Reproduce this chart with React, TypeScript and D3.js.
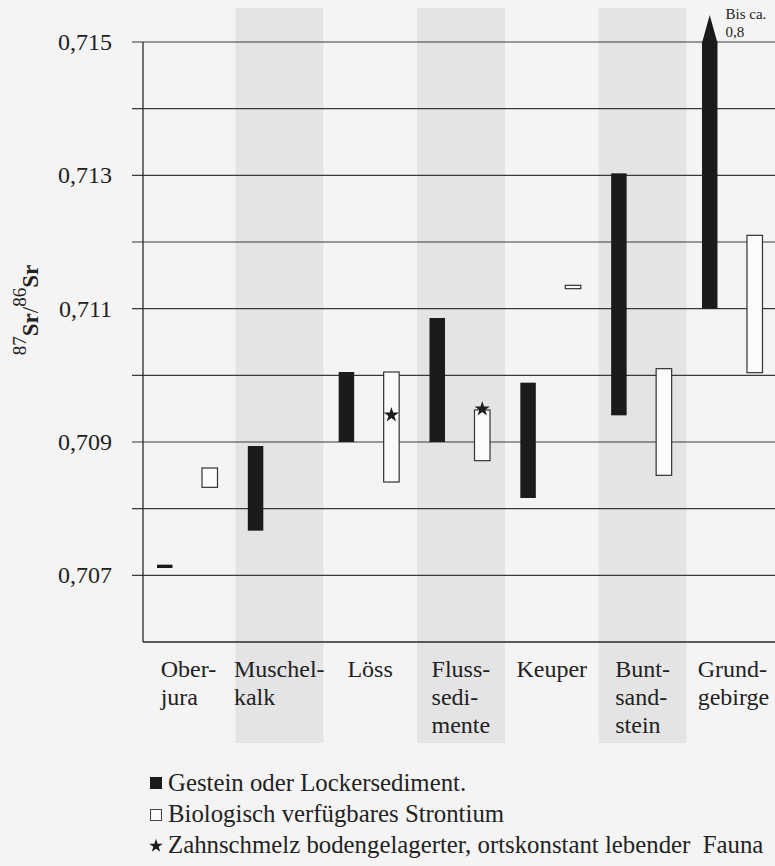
import React from "react";
import * as d3 from "d3";

// Geological units along the x axis
const categories = [
  "Oberjura",
  "Muschelkalk",
  "Löss",
  "Flusssedimente",
  "Keuper",
  "Buntsandstein",
  "Grundgebirge",
];

// Hyphenated label lines for each unit
const categoryLines = [
  ["Ober-", "jura"],
  ["Muschel-", "kalk"],
  ["Löss"],
  ["Fluss-", "sedi-", "mente"],
  ["Keuper"],
  ["Bunt-", "sand-", "stein"],
  ["Grund-", "gebirge"],
];

// Units drawn with a shaded column behind them
const shadedCategories = ["Muschelkalk", "Flusssedimente", "Buntsandstein"];

// 87Sr/86Sr range of rock / loose sediment [min, max]
const rockRanges: ([number, number] | null)[] = [
  [0.70711, 0.70716],
  [0.70767, 0.70894],
  [0.709, 0.71005],
  [0.709, 0.71086],
  [0.70816, 0.70989],
  [0.7094, 0.71303],
  [0.711, 0.8],
];

// 87Sr/86Sr range of biologically available strontium [min, max]
const bioRanges: ([number, number] | null)[] = [
  [0.70832, 0.70861],
  null,
  [0.7084, 0.71005],
  [0.70872, 0.70948],
  [0.7113, 0.71135],
  [0.7085, 0.7101],
  [0.71004, 0.7121],
];

// Tooth enamel of local fauna
const enamelCategories = ["Löss", "Flusssedimente"];
const enamelValues = [0.709405, 0.709495];

// Axis ticks
const gridValues = [0.707, 0.708, 0.709, 0.71, 0.711, 0.712, 0.713, 0.714, 0.715];
const labelledTicks = [0.707, 0.709, 0.711, 0.713, 0.715];

const legendItems = [
  "Gestein oder Lockersediment.",
  "Biologisch verfügbares Strontium",
  "Zahnschmelz bodengelagerter, ortskonstant lebender  Fauna",
];

const openEndNote = ["Bis ca.", "0,8"];

const W = 775;
const H = 866;
const FONT = '"Liberation Serif", "Times New Roman", Times, serif';
const INK = "#222";
const BG = "#f4f4f4";
const BAND = "#e4e4e4";

const fmt = (v: number) => d3.format(".3f")(v).replace(".", ",");

let measureCtx: CanvasRenderingContext2D | null = null;
function textWidth(s: string, size: number) {
  if (!measureCtx) measureCtx = document.createElement("canvas").getContext("2d");
  if (!measureCtx) return s.length * size * 0.45;
  measureCtx.font = `${size}px ${FONT}`;
  return measureCtx.measureText(s).width;
}

export default function App() {
  const plotLeft = 143;
  const plotTop = 42;
  const plotBottom = 642;
  const step = 90.83;

  const y = d3.scaleLinear().domain([0.706, 0.715]).range([plotBottom, plotTop]);
  const x = d3
    .scaleBand<string>()
    .domain(categories)
    .range([plotLeft, plotLeft + step * categories.length])
    .padding(0);
  const bw = x.bandwidth();

  const barW = 15.5;
  const rockOffset = 14;
  const bioOffset = 59;
  const [yMin, yMax] = y.domain();
  const clampY = (v: number) => y(Math.max(yMin, Math.min(yMax, v)));

  const star = d3.symbol().type(d3.symbolStar).size(72)() as string;
  const legendStar = d3.symbol().type(d3.symbolStar).size(58)() as string;

  const labelSize = 24;
  const legendSize = 24.8;
  const txt = { fontFamily: FONT };

  return (
    <svg
      width={W}
      height={H}
      viewBox={`0 0 ${W} ${H}`}
      style={{ position: "absolute", left: 0, top: 0, background: BG, fontFamily: FONT }}
    >
      <rect x={0} y={0} width={W} height={H} fill={BG} />

      {/* shaded columns */}
      {shadedCategories.map((c) => (
        <rect key={c} x={(x(c) as number) + 1.5} y={8} width={bw - 3} height={735} fill={BAND} />
      ))}

      {/* grid lines with tick stubs */}
      {gridValues.map((v) => (
        <line key={v} x1={132} x2={W} y1={y(v)} y2={y(v)} stroke="#3a3a3a" strokeWidth={1.1} />
      ))}

      {/* frame */}
      <line x1={plotLeft} x2={plotLeft} y1={plotTop} y2={plotBottom} stroke="#2a2a2a" strokeWidth={1.3} />
      <line x1={plotLeft} x2={W} y1={plotBottom} y2={plotBottom} stroke="#2a2a2a" strokeWidth={1.3} />

      {/* tick labels */}
      {labelledTicks.map((v) => (
        <text key={v} x={112} y={y(v)} dy="0.34em" textAnchor="end" fontSize={24} fill={INK} style={txt}>
          {fmt(v)}
        </text>
      ))}

      {/* axis title */}
      <text transform={`translate(38,310) rotate(-90)`} textAnchor="middle" fill={INK} style={txt}>
        <tspan fontSize={19} dy={-12}>87</tspan>
        <tspan fontSize={23} fontWeight="bold" dy={12}>Sr</tspan>
        <tspan fontSize={23}>/</tspan>
        <tspan fontSize={19} dy={-12}>86</tspan>
        <tspan fontSize={23} fontWeight="bold" dy={12}>Sr</tspan>
      </text>

      {/* rock / sediment ranges */}
      {categories.map((c, i) => {
        const r = rockRanges[i];
        if (!r) return null;
        const x0 = (x(c) as number) + rockOffset;
        const top = clampY(r[1]);
        const bottom = clampY(r[0]);
        return (
          <g key={c}>
            <rect x={x0} y={top} width={barW} height={Math.max(bottom - top, 1)} fill="#1b1b1b" />
            {r[1] > yMax && (
              <path
                d={`M${x0},${top + 1}L${x0 + barW},${top + 1}L${x0 + barW / 2},${top - 27}Z`}
                fill="#1b1b1b"
              />
            )}
          </g>
        );
      })}

      {/* open-ended note */}
      {categories.map((c, i) => {
        const r = rockRanges[i];
        if (!r || r[1] <= yMax) return null;
        const tx = (x(c) as number) + rockOffset + barW + 8;
        return (
          <text key={c} x={tx} y={19} fontSize={15} fill={INK} style={txt}>
            <tspan x={tx}>{openEndNote[0]}</tspan>
            <tspan x={tx} dy={18}>{openEndNote[1]}</tspan>
          </text>
        );
      })}

      {/* biologically available Sr ranges */}
      {categories.map((c, i) => {
        const r = bioRanges[i];
        if (!r) return null;
        const x0 = (x(c) as number) + bioOffset;
        const top = clampY(r[1]);
        const bottom = clampY(r[0]);
        return (
          <rect
            key={c}
            x={x0}
            y={top}
            width={barW}
            height={Math.max(bottom - top, 3)}
            fill="#fbfbfb"
            stroke="#333"
            strokeWidth={1.2}
          />
        );
      })}

      {/* tooth enamel */}
      {enamelCategories.map((c, i) => (
        <path
          key={c}
          d={star}
          transform={`translate(${(x(c) as number) + bioOffset + barW / 2},${y(enamelValues[i])})`}
          fill="#1b1b1b"
        />
      ))}

      {/* category labels: lines left-aligned, block centred on the unit */}
      {categories.map((c, i) => {
        const lines = categoryLines[i];
        const maxW = Math.max(...lines.map((l) => textWidth(l, labelSize)));
        const lx = (x(c) as number) + bw / 2 - maxW / 2;
        return (
          <text key={c} y={677} fontSize={labelSize} fill={INK} style={txt}>
            {lines.map((l, k) => (
              <tspan key={k} x={lx} dy={k === 0 ? 0 : 28}>
                {l}
              </tspan>
            ))}
          </text>
        );
      })}

      {/* legend */}
      <g>
        <rect x={150} y={777} width={12} height={12} fill="#1b1b1b" />
        <text x={168} y={791} fontSize={legendSize} fill={INK} style={txt}>{legendItems[0]}</text>
        <rect x={150.5} y={809.5} width={11} height={11} fill="#fbfbfb" stroke="#444" strokeWidth={1} />
        <text x={168} y={822} fontSize={legendSize} fill={INK} style={txt}>{legendItems[1]}</text>
        <path d={legendStar} transform="translate(156,846)" fill="#1b1b1b" />
        <text x={168} y={853} fontSize={legendSize} fill={INK} style={{ ...txt, whiteSpace: "pre" }}>
          {legendItems[2]}
        </text>
      </g>
    </svg>
  );
}
